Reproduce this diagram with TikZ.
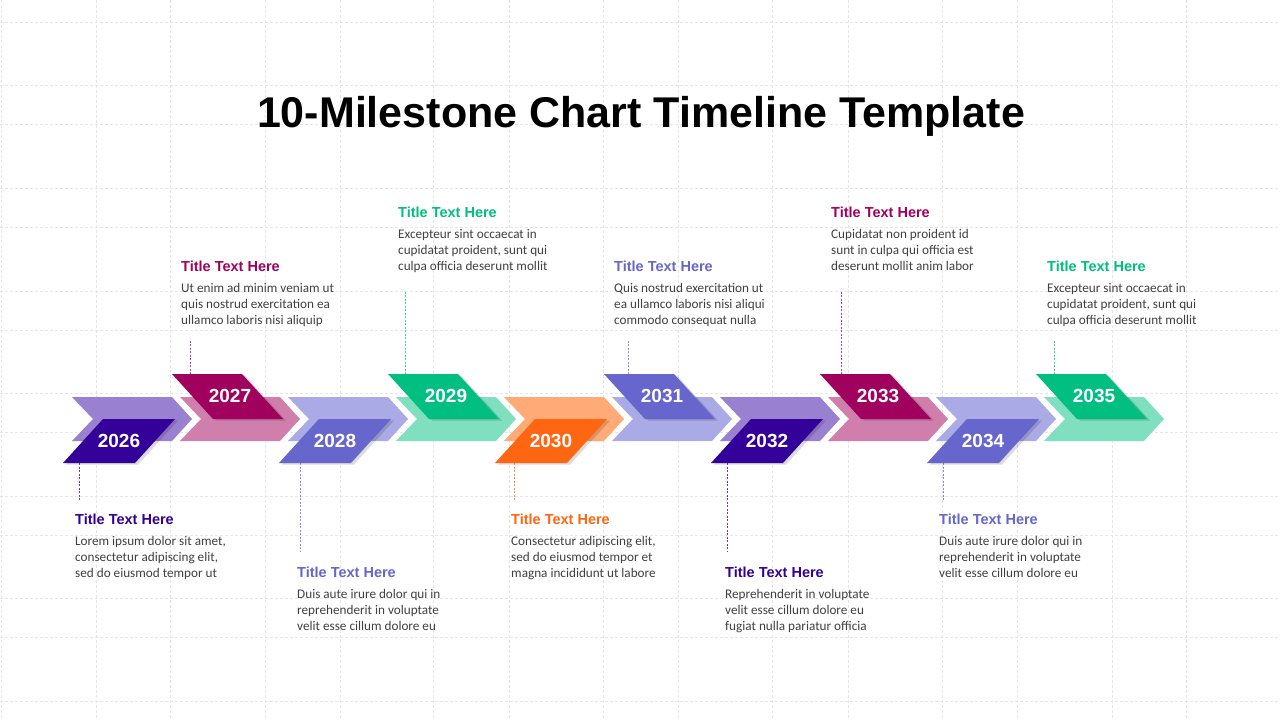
\documentclass[tikz,border=0pt]{standalone}
\usepackage{fontspec}
\usepackage{xcolor}
\usepackage{tikz}
\usetikzlibrary{shadows}
\setmainfont{Carlito}
\newfontfamily\headfont{Liberation Sans}
\definecolor{indigo}{HTML}{330099}
\definecolor{indigolt}{HTML}{9A80D0}
\definecolor{plum}{HTML}{A0005E}
\definecolor{plumlt}{HTML}{D07EAB}
\definecolor{peri}{HTML}{6666CC}
\definecolor{perilt}{HTML}{AAAAE6}
\definecolor{mint}{HTML}{00BF80}
\definecolor{mintlt}{HTML}{7FDFBF}
\definecolor{tang}{HTML}{FF6611}
\definecolor{tanglt}{HTML}{FFAA77}
\definecolor{bodygray}{HTML}{404040}
\definecolor{gridgray}{HTML}{E6E6E6}
\tikzstyle{gridline}=[draw=gridgray,dash pattern=on 3pt off 2pt,line width=0.6pt]
\tikzstyle{yearbox}=[drop shadow={shadow xshift=3pt,shadow yshift=-1.5pt,opacity=0.14,fill=black}]
\tikzstyle{year}=[text=white,inner sep=0pt,font=\headfont\bfseries\fontsize{19}{22}\selectfont]
\tikzstyle{headline}=[anchor=base,inner sep=0pt,font=\headfont\bfseries\fontsize{43}{50}\selectfont]
\tikzstyle{ttl}=[anchor=base west,inner sep=0pt,font=\headfont\bfseries\fontsize{14.5}{17}\selectfont]
\tikzstyle{body}=[anchor=base west,inner sep=0pt,align=left,text=bodygray,yshift=-32pt,font=\fontsize{13.2}{16}\selectfont]
\tikzstyle{lead}=[dash pattern=on 2pt off 1.5pt,line width=0.6pt,opacity=0.75]
\def\band#1#2{\fill[#2] (#1,397) -- ++(100,0) -- ++(20,22) -- ++(-20,22) -- ++(-100,0) -- ++(21,-22) -- cycle}
\def\lowyear#1#2#3{\fill[yearbox,#2] (#1-9,463) -- (#1+63,463) -- (#1+103,419) -- (#1+31,419) -- cycle;
  \node[year] (y#3) at (#1+47,441) {#3}}
\def\highyear#1#2#3{\fill[yearbox,#2] (#1-8,374) -- (#1+62,374) -- (#1+103,419) -- (#1+33,419) -- cycle;
  \node[year] (y#3) at (#1+50,396) {#3}}

\begin{document}
\begin{tikzpicture}[x=1pt,y=-1pt]
    \useasboundingbox (0,0) rectangle (1280,720);
    \fill[white] (0,0) rectangle (1280,720);
    % background grid
    \foreach \gx in {1,96,170,265,340,433,509,603,678,772,848,942,1017,1112,1186}
      \draw[gridline] (\gx,0) -- (\gx,720);
    \foreach \gy in {22,85,124,188,227,291,330,393,432,496,535,598,637,701}
      \draw[gridline] (0,\gy) -- (1280,\gy);
    \node[headline] (head) at (641,127) {10-Milestone Chart Timeline Template};
    % arrow band
    \band{72}{indigolt};
    \band{180}{plumlt};
    \band{288}{perilt};
    \band{396}{mintlt};
    \band{504}{tanglt};
    \band{612}{perilt};
    \band{720}{indigolt};
    \band{828}{plumlt};
    \band{936}{perilt};
    \band{1044}{mintlt};
    % year tags
    \lowyear{72}{indigo}{2026};
    \highyear{180}{plum}{2027};
    \lowyear{288}{peri}{2028};
    \highyear{396}{mint}{2029};
    \lowyear{504}{tang}{2030};
    \highyear{612}{peri}{2031};
    \lowyear{720}{indigo}{2032};
    \highyear{828}{plum}{2033};
    \lowyear{936}{peri}{2034};
    \highyear{1044}{mint}{2035};
    % 2026
    \node[ttl,text=indigo] (t2026) at (75,524) {Title Text Here};
    \node[body] (b2026) at (75,545) {Lorem ipsum dolor sit amet,\\consectetur adipiscing elit,\\sed do eiusmod tempor ut};
    \coordinate (a2026) at (79,463);
    \coordinate (e2026) at (79,500);
    \draw[lead,indigo] (a2026) -- (e2026);
    % 2027
    \node[ttl,text=plum] (t2027) at (181,271) {Title Text Here};
    \node[body] (b2027) at (181,292) {Ut enim ad minim veniam ut\\quis nostrud exercitation ea\\ullamco laboris nisi aliquip};
    \coordinate (a2027) at (190,374);
    \coordinate (e2027) at (190,340);
    \draw[lead,plum] (a2027) -- (e2027);
    % 2028
    \node[ttl,text=peri] (t2028) at (297,577) {Title Text Here};
    \node[body] (b2028) at (297,598) {Duis aute irure dolor qui in\\reprehenderit in voluptate\\velit esse cillum dolore eu};
    \coordinate (a2028) at (300,463);
    \coordinate (e2028) at (300,552);
    \draw[lead,peri] (a2028) -- (e2028);
    % 2029
    \node[ttl,text=mint] (t2029) at (398,217) {Title Text Here};
    \node[body] (b2029) at (398,238) {Excepteur sint occaecat in\\cupidatat proident, sunt qui\\culpa officia deserunt mollit};
    \coordinate (a2029) at (405,374);
    \coordinate (e2029) at (405,290);
    \draw[lead,mint] (a2029) -- (e2029);
    % 2030
    \node[ttl,text=tang] (t2030) at (511,524) {Title Text Here};
    \node[body] (b2030) at (511,545) {Consectetur adipiscing elit,\\sed do eiusmod tempor et\\magna incididunt ut labore};
    \coordinate (a2030) at (514,463);
    \coordinate (e2030) at (514,500);
    \draw[lead,tang] (a2030) -- (e2030);
    % 2031
    \node[ttl,text=peri] (t2031) at (614,271) {Title Text Here};
    \node[body] (b2031) at (614,292) {Quis nostrud exercitation ut\\ea ullamco laboris nisi aliqui\\commodo consequat nulla};
    \coordinate (a2031) at (628,374);
    \coordinate (e2031) at (628,340);
    \draw[lead,peri] (a2031) -- (e2031);
    % 2032
    \node[ttl,text=indigo] (t2032) at (725,577) {Title Text Here};
    \node[body] (b2032) at (725,598) {Reprehenderit in voluptate\\velit esse cillum dolore eu\\fugiat nulla pariatur officia};
    \coordinate (a2032) at (727,463);
    \coordinate (e2032) at (727,552);
    \draw[lead,indigo] (a2032) -- (e2032);
    % 2033
    \node[ttl,text=plum] (t2033) at (831,217) {Title Text Here};
    \node[body] (b2033) at (831,238) {Cupidatat non proident id\\sunt in culpa qui officia est\\deserunt mollit anim labor};
    \coordinate (a2033) at (841,374);
    \coordinate (e2033) at (841,290);
    \draw[lead,plum] (a2033) -- (e2033);
    % 2034
    \node[ttl,text=peri] (t2034) at (939,524) {Title Text Here};
    \node[body] (b2034) at (939,545) {Duis aute irure dolor qui in\\reprehenderit in voluptate\\velit esse cillum dolore eu};
    \coordinate (a2034) at (943,463);
    \coordinate (e2034) at (943,500);
    \draw[lead,peri] (a2034) -- (e2034);
    % 2035
    \node[ttl,text=mint] (t2035) at (1047,271) {Title Text Here};
    \node[body] (b2035) at (1047,292) {Excepteur sint occaecat in\\cupidatat proident, sunt qui\\culpa officia deserunt mollit};
    \coordinate (a2035) at (1054,374);
    \coordinate (e2035) at (1054,340);
    \draw[lead,mint] (a2035) -- (e2035);
  \end{tikzpicture}
\end{document}
